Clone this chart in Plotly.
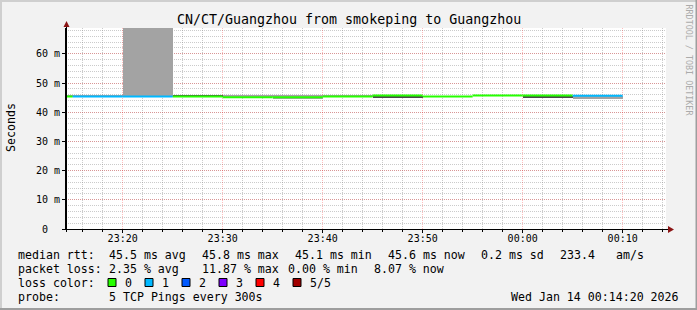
import plotly.graph_objects as go
import pandas as pd

# ---------------- data ----------------
times = ["2026-01-13 23:15", "2026-01-13 23:20", "2026-01-13 23:25", "2026-01-13 23:30",
         "2026-01-13 23:35", "2026-01-13 23:40", "2026-01-13 23:45", "2026-01-13 23:50",
         "2026-01-13 23:55", "2026-01-14 00:00", "2026-01-14 00:05", "2026-01-14 00:10"]
median_ms = [45.4, 45.4, 45.4, 45.4, 45.1, 45.1, 45.4, 45.7, 45.4, 45.7, 45.7, 45.6]
loss_count = [0, 1, 1, 0, 0, 0, 0, 0, 0, 0, 0, 1]
smoke_lo_ms = [45.3, 45.3, 45.3, 45.4, 45.1, 44.4, 45.3, 45.7, 45.4, 45.7, 45.7, 44.4]
smoke_hi_ms = [46.0, 46.0, 99.0, 45.4, 46.0, 46.0, 46.0, 45.7, 45.4, 45.7, 45.7, 45.6]
core_lo_ms = [45.4, 45.4, 45.4, 45.4, 45.1, 45.1, 45.4, 45.1, 45.4, 45.7, 45.0, 45.6]
core_hi_ms = [45.4, 45.4, 45.4, 45.9, 45.1, 45.1, 45.4, 45.7, 45.4, 45.7, 45.7, 45.6]
step_seconds = 300

loss_labels = ["0", "1", "2", "3", "4", "5/5"]
loss_colors = ["#26ff00", "#00b8ff", "#0059ff", "#7e00ff", "#ff0000", "#a10000"]

y_tick_values = [0, 10, 20, 30, 40, 50, 60]
y_tick_labels = ["0\u00a0\u00a0", "10 m", "20 m", "30 m", "40 m", "50 m", "60 m"]

title_text = "CN/CT/Guangzhou from smokeping to Guangzhou"
median_stats = [("median rtt:", 16), ("45.5 ms avg", 107), ("45.8 ms max", 200),
                ("45.1 ms min", 293), ("45.6 ms now", 386), ("0.2 ms sd", 479),
                ("233.4", 558), ("am/s", 614)]
loss_stats = [("packet loss:", 16), ("2.35 % avg", 107), ("11.87 % max", 200),
              ("0.00 % min", 286), ("8.07 % now", 372)]
probe_text = "5 TCP Pings every 300s"
date_text = "Wed Jan 14 00:14:20 2026"
x_start = "2026-01-13 23:14:20"
x_end = "2026-01-14 00:14:20"

# ---------------- geometry ----------------
W, H = 697, 310
L, T, PW, PH = 66, 28, 600, 201
R = W - L - PW
B = H - T - PH
FONT = "DejaVu Sans Mono"


def px(x):
    return (x - L) / PW


def py(y):
    return (T + PH - y) / PH


t_end = pd.to_datetime(times)
step = pd.Timedelta(seconds=step_seconds)
t_mid = t_end - step / 2
t_start = t_end - step

fig = go.Figure()

# smoke (outer)
fig.add_trace(go.Bar(
    x=t_mid, base=smoke_lo_ms, y=[h - l for h, l in zip(smoke_hi_ms, smoke_lo_ms)],
    width=step_seconds * 1000, marker=dict(color="#a3a3a3", line=dict(width=0)),
    showlegend=False, hoverinfo="skip"))
# smoke (inner)
fig.add_trace(go.Bar(
    x=t_mid, base=core_lo_ms, y=[h - l for h, l in zip(core_hi_ms, core_lo_ms)],
    width=step_seconds * 1000, marker=dict(color="#4a4a4a", line=dict(width=0)),
    showlegend=False, hoverinfo="skip"))

# median lines coloured by loss
for li, col in enumerate(loss_colors):
    xs, ys = [], []
    for s, e, v, lc in zip(t_start, t_end, median_ms, loss_count):
        if lc == li:
            xs += [s, e, None]
            ys += [v, v, None]
    if xs:
        fig.add_trace(go.Scatter(x=xs, y=ys, mode="lines",
                                 line=dict(color=col, width=2, shape="linear"),
                                 showlegend=False, hoverinfo="skip", cliponaxis=True))

ymax = PH / 2.92
MAJ = "rgba(255,0,0,0.26)"
MIN = "rgba(140,140,140,0.45)"

fig.update_layout(
    width=W, height=H, margin=dict(l=L, r=R, t=T, b=B, pad=0),
    paper_bgcolor="#f2f2f2", plot_bgcolor="#ffffff",
    barmode="overlay", bargap=0, showlegend=False,
    font=dict(family=FONT, size=10, color="#000000"),
)
fig.update_xaxes(
    type="date", range=[x_start, x_end], tickformat="%H:%M", dtick=600000,
    tick0="2026-01-13 00:00",
    showgrid=True, gridcolor=MAJ, griddash="1px,1px", gridwidth=1,
    showline=True, linecolor="#000000", linewidth=1, zeroline=False,
    ticks="outside", ticklen=3, tickcolor="#000000", ticklabelstandoff=-3,
    tickfont=dict(family=FONT, size=10, color="#000000"),
    minor=dict(dtick=120000, tick0="2026-01-13 00:00", showgrid=True,
               gridcolor=MIN, griddash="1px,1px", gridwidth=1,
               ticks="outside", ticklen=2, tickcolor="#000000"),
    fixedrange=True,
)
fig.update_yaxes(
    range=[0, ymax], tickvals=y_tick_values, ticktext=y_tick_labels,
    showgrid=True, gridcolor=MAJ, griddash="1px,1px", gridwidth=1,
    showline=True, linecolor="#000000", linewidth=1, zeroline=False,
    ticks="outside", ticklen=3, tickcolor="#000000",
    tickfont=dict(family=FONT, size=10, color="#000000"),
    minor=dict(dtick=2, showgrid=True, gridcolor=MIN,
               griddash="1px,1px", gridwidth=1),
    fixedrange=True,
)

shapes = []
# frame shading
shapes.append(dict(type="rect", xref="paper", yref="paper", x0=px(0), x1=px(W), y0=py(0), y1=py(2),
                   fillcolor="#cfcfcf", line=dict(width=0), layer="above"))
shapes.append(dict(type="rect", xref="paper", yref="paper", x0=px(0), x1=px(2), y0=py(0), y1=py(H),
                   fillcolor="#cfcfcf", line=dict(width=0), layer="above"))
shapes.append(dict(type="rect", xref="paper", yref="paper", x0=px(0), x1=px(W), y0=py(H - 2), y1=py(H),
                   fillcolor="#9e9e9e", line=dict(width=0), layer="above"))
shapes.append(dict(type="rect", xref="paper", yref="paper", x0=px(W - 1.5), x1=px(W), y0=py(0), y1=py(H),
                   fillcolor="#9e9e9e", line=dict(width=0), layer="above"))
# axis extensions
shapes.append(dict(type="line", xref="paper", yref="paper", x0=px(62), x1=px(669), y0=py(229.5), y1=py(229.5),
                   line=dict(color="#000000", width=1), layer="above"))
shapes.append(dict(type="line", xref="paper", yref="paper", x0=px(66.5), x1=px(66.5), y0=py(232), y1=py(25),
                   line=dict(color="#000000", width=1), layer="above"))
# arrows
shapes.append(dict(type="path", xref="paper", yref="paper",
                   path=f"M {px(668)} {py(226)} L {px(674)} {py(229.5)} L {px(668)} {py(233)} Z",
                   fillcolor="#8b1414", line=dict(width=0), layer="above"))
shapes.append(dict(type="path", xref="paper", yref="paper",
                   path=f"M {px(63.5)} {py(27)} L {px(66.5)} {py(21)} L {px(69.5)} {py(27)} Z",
                   fillcolor="#8b1414", line=dict(width=0), layer="above"))

annotations = []


def txt(text, x, y, size=11.6, xanchor="left", color="#000000", angle=0):
    annotations.append(dict(text=text, x=px(x), y=py(y), xref="paper", yref="paper",
                            xanchor=xanchor, yanchor="middle", showarrow=False,
                            textangle=angle,
                            font=dict(family=FONT, size=size, color=color)))


txt(title_text, 348.5, 19, size=13.3, xanchor="center")
txt("Seconds", 11, 128, size=11.6, xanchor="center", angle=-90)
txt("RRDTOOL / TOBI OETIKER", 688.5, 60, size=8.4, xanchor="center", color="#ababab", angle=90)

for s, x in median_stats:
    txt(s, x, 254.5)
for s, x in loss_stats:
    txt(s, x, 268.5)
txt("loss color:", 16, 282.5)
for i, (lab, col) in enumerate(zip(loss_labels, loss_colors)):
    x0 = 108 + i * 37
    shapes.append(dict(type="rect", xref="paper", yref="paper", x0=px(x0), x1=px(x0 + 8),
                       y0=py(278.5), y1=py(286.5), fillcolor=col,
                       line=dict(color="#000000", width=1), layer="above"))
    txt(lab, x0 + 15, 282.5)
txt("probe:", 16, 296.5)
txt(probe_text, 107, 296.5)
txt(date_text, 681, 296.5, xanchor="right")

fig.update_layout(shapes=shapes, annotations=annotations)
fig.write_html("out.html")
